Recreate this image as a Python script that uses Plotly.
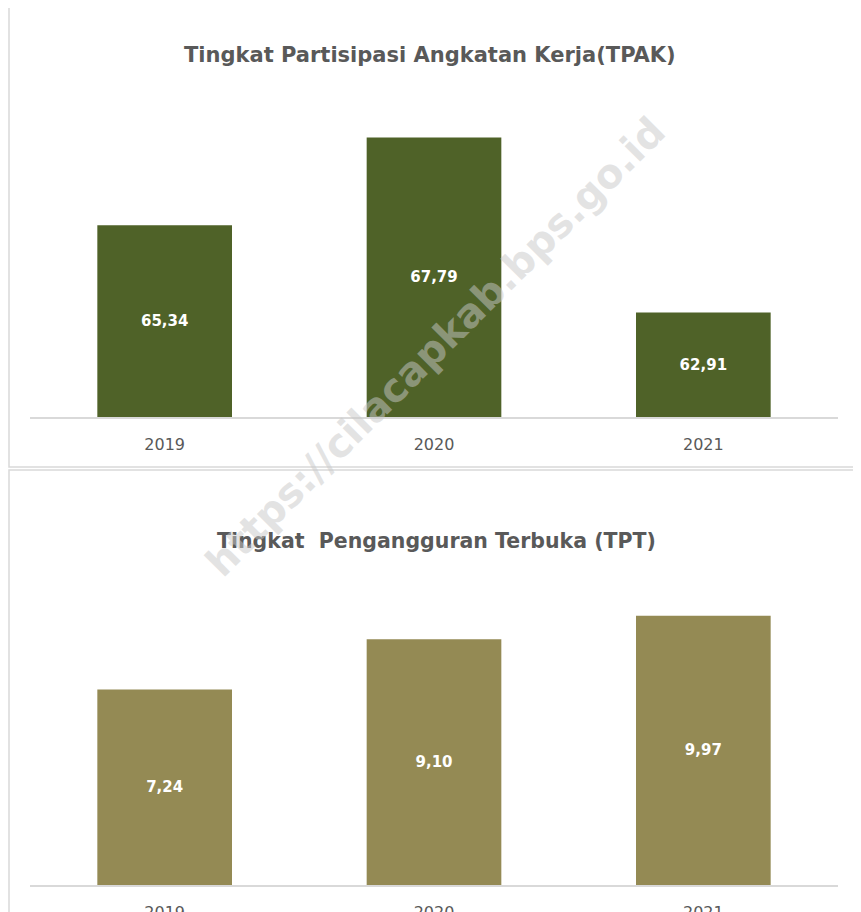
import plotly.graph_objects as go
from plotly.subplots import make_subplots

years = ["2019", "2020", "2021"]
tpak = [65.34, 67.79, 62.91]
tpt = [7.24, 9.10, 9.97]
tpak_base = 60

# the page body has an 8px margin, so work in screen pixels and shift
OFF = 8
FW, FH = 853, 904


def sx(x):
    return (x - OFF) / FW


def sy(y):
    return 1 - (y - OFF) / FH


def label(v):
    return f"{v:.2f}".replace(".", ",")


fig = make_subplots(rows=2, cols=1)

fig.add_trace(go.Bar(x=years, y=[v - tpak_base for v in tpak], base=tpak_base,
                     marker_color="#4F6228", marker_line_width=0,
                     text=[label(v) for v in tpak], textposition="inside",
                     insidetextanchor="middle",
                     textfont=dict(family="DejaVu Sans", size=15, color="white", weight="bold"),
                     hoverinfo="skip"), row=1, col=1)
fig.add_trace(go.Bar(x=years, y=tpt, marker_color="#948A54", marker_line_width=0,
                     text=[label(v) for v in tpt], textposition="inside",
                     insidetextanchor="middle",
                     textfont=dict(family="DejaVu Sans", size=15, color="white", weight="bold"),
                     hoverinfo="skip"), row=2, col=1)

xdom = [sx(30), sx(838)]
fig.update_layout(
    width=FW, height=FH, margin=dict(l=0, r=0, t=0, b=0),
    paper_bgcolor="white", plot_bgcolor="white",
    showlegend=False, bargap=0.5,
    xaxis=dict(domain=xdom, anchor="y"),
    xaxis2=dict(domain=xdom, anchor="y2"),
    yaxis=dict(domain=[sy(417), sy(94)], range=[60, 69]),
    yaxis2=dict(domain=[sy(885), sy(561)], range=[0, 12]),
)
fig.update_xaxes(showline=True, linecolor="#D9D9D9", linewidth=1.5, showgrid=False,
                 automargin=False,
                 ticks="outside", ticklen=12, tickcolor="rgba(0,0,0,0)",
                 tickfont=dict(family="DejaVu Sans", size=16, color="#595959"))
fig.update_yaxes(visible=False, showgrid=False, automargin=False)

# panel borders
for y0, y1 in [(3, 467), (470, 940)]:
    fig.add_shape(type="rect", xref="paper", yref="paper",
                  x0=sx(9), x1=sx(870), y0=sy(y1), y1=sy(y0),
                  line=dict(color="#D9D9D9", width=1.5), layer="below")

fig.add_annotation(text="Tingkat Partisipasi Angkatan Kerja(TPAK)", xref="paper", yref="paper",
                   x=sx(430), y=sy(55), yanchor="middle", showarrow=False,
                   font=dict(family="DejaVu Sans", size=21, color="#595959", weight="bold"))
fig.add_annotation(text="Tingkat  Pengangguran Terbuka (TPT)", xref="paper", yref="paper",
                   x=sx(436), y=sy(541), yanchor="middle", showarrow=False,
                   font=dict(family="DejaVu Sans", size=20.5, color="#595959", weight="bold"))

# watermark
fig.add_annotation(text="<b>https://cilacapkab.bps.go.id</b>", xref="paper", yref="paper",
                   x=sx(435), y=sy(347), yanchor="middle", showarrow=False, textangle=-45,
                   font=dict(family="DejaVu Sans", size=40, color="rgba(200,200,200,0.5)"))

fig.write_html("out.html")
